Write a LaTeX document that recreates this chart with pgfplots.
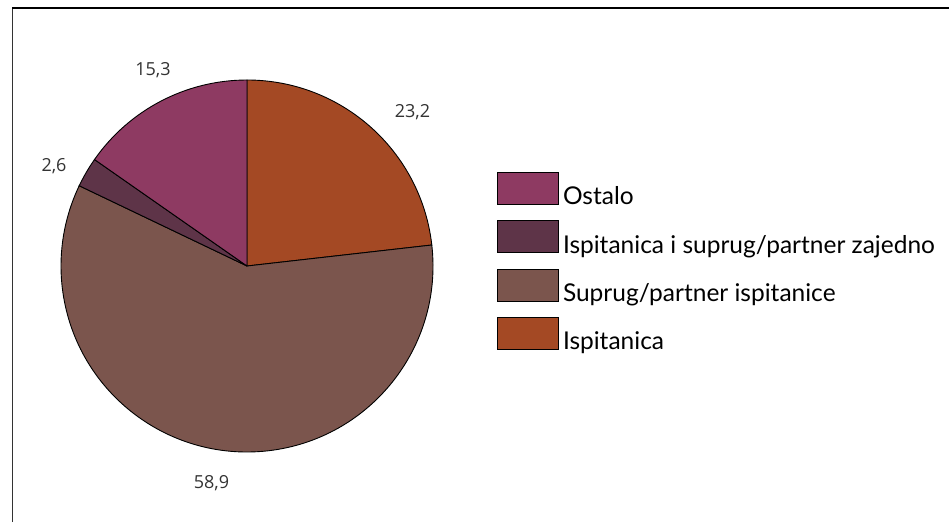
\documentclass[border=0pt]{standalone}
\usepackage{pgfplots}
\usepackage{pgfplotstable}
\pgfplotsset{compat=1.18}
\usepackage{fontspec}
\setmainfont{Open Sans}
\newfontfamily\legfont{Lato}
\definecolor{cOst}{RGB}{142,58,98}
\definecolor{cZaj}{RGB}{94,52,72}
\definecolor{cSup}{RGB}{123,85,77}
\definecolor{cIsp}{RGB}{164,73,36}
\pgfplotstableread{
label value
Ispitanica 23.2
Suprug 58.9
Zajedno 2.6
Ostalo 15.3
}\piedata
\begin{document}
\begin{tikzpicture}
\useasboundingbox (0,0) rectangle (949pt,522pt);
\pgfplotstablegetelem{0}{value}\of\piedata \pgfmathsetmacro{\va}{\pgfplotsretval}
\pgfplotstablegetelem{1}{value}\of\piedata \pgfmathsetmacro{\vb}{\pgfplotsretval}
\pgfplotstablegetelem{2}{value}\of\piedata \pgfmathsetmacro{\vc}{\pgfplotsretval}
\pgfplotstablegetelem{3}{value}\of\piedata \pgfmathsetmacro{\vd}{\pgfplotsretval}
\pgfmathsetmacro{\aA}{90}
\pgfmathsetmacro{\aB}{\aA-3.6*\va}
\pgfmathsetmacro{\aC}{\aB-3.6*\vb}
\pgfmathsetmacro{\aD}{\aC-3.6*\vc}
\pgfmathsetmacro{\aE}{\aD-3.6*\vd}
\begin{axis}[
  width=949pt, height=522pt, scale only axis,
  xmin=0, xmax=949, ymin=0, ymax=522,
  hide axis, clip=false,
  legend style={at={(axis cs:497,350)}, anchor=north west, draw=none, fill=none,
    inner sep=0pt, row sep=14pt, column sep=4pt,
    font=\legfont\fontsize{24.5}{26}\selectfont,
    nodes={inner sep=0pt}},
  legend cell align=left,
  legend image code/.code={\filldraw[#1, draw=black, line width=0.8pt] (0pt,-8pt) rectangle (61pt,24pt);},
]
\addlegendimage{fill=cOst}\addlegendentry{Ostalo}
\addlegendimage{fill=cZaj}\addlegendentry{Ispitanica i suprug/partner zajedno}
\addlegendimage{fill=cSup}\addlegendentry{Suprug/partner ispitanice}
\addlegendimage{fill=cIsp}\addlegendentry{Ispitanica}
\filldraw[fill=cIsp, draw=black, line width=0.9pt] (axis cs:247,256) -- ++(\aA:186pt) arc[start angle=\aA, end angle=\aB, radius=186pt] -- cycle;
\filldraw[fill=cSup, draw=black, line width=0.9pt] (axis cs:247,256) -- ++(\aB:186pt) arc[start angle=\aB, end angle=\aC, radius=186pt] -- cycle;
\filldraw[fill=cZaj, draw=black, line width=0.9pt] (axis cs:247,256) -- ++(\aC:186pt) arc[start angle=\aC, end angle=\aD, radius=186pt] -- cycle;
\filldraw[fill=cOst, draw=black, line width=0.9pt] (axis cs:247,256) -- ++(\aD:186pt) arc[start angle=\aD, end angle=\aE, radius=186pt] -- cycle;
\node[font=\fontsize{18}{20}\selectfont, text=black!80] at (axis cs:153,452) {15,3};
\node[font=\fontsize{18}{20}\selectfont, text=black!80] at (axis cs:412.5,410) {23,2};
\node[font=\fontsize{18}{20}\selectfont, text=black!80] at (axis cs:54,356) {2,6};
\node[font=\fontsize{18}{20}\selectfont, text=black!80] at (axis cs:211.5,39) {58,9};
\draw[line width=1pt, black!80] (axis cs:12,0) -- (axis cs:12,514);
\draw[line width=1.6pt] (axis cs:12,514) -- (axis cs:949,514);
\end{axis}
\end{tikzpicture}
\end{document}
